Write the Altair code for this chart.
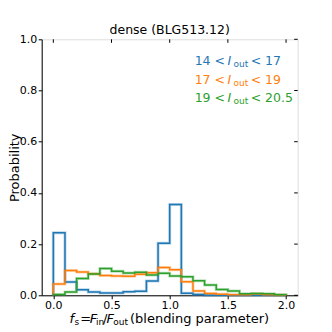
import altair as alt
import pandas as pd

# ---- data ----
bin_edges = [0.0, 0.1, 0.2, 0.3, 0.4, 0.5, 0.6, 0.7, 0.8, 0.9, 1.0,
             1.1, 1.2, 1.3, 1.4, 1.5, 1.6, 1.7, 1.8, 1.9, 2.0]
series_names = ["14-17", "17-19", "19-20.5"]
series_colors = ["#1f77b4", "#ff7f0e", "#2ca02c"]
blue_vals = [0.244, 0.052, 0.022, 0.013, 0.009, 0.009, 0.014, 0.016, 0.056, 0.203,
             0.355, 0.008, 0.003, 0.0, 0.0, 0.0, 0.0, 0.0, 0.0, 0.0]
orange_vals = [0.044, 0.097, 0.091, 0.084, 0.077, 0.075, 0.074, 0.082, 0.088, 0.109,
               0.100, 0.053, 0.017, 0.007, 0.004, 0.002, 0.002, 0.005, 0.002, 0.001]
green_vals = [0.003, 0.013, 0.066, 0.083, 0.105, 0.094, 0.087, 0.090, 0.079, 0.086,
              0.075, 0.072, 0.057, 0.040, 0.023, 0.017, 0.006, 0.007, 0.006, 0.002]
x_ticks = [0.0, 0.5, 1.0, 1.5, 2.0]
y_ticks = [0.0, 0.2, 0.4, 0.6, 0.8, 1.0]
legend_lo = ["14", "17", "19"]
legend_hi = ["17", "19", "20.5"]
title_text = "dense (BLG513.12)"

FONT = "DejaVu Sans"
W, H = 256, 256

# ---- build step outlines (matplotlib histtype='step') ----
rows = []
for name, vals in zip(series_names, [blue_vals, orange_vals, green_vals]):
    pts = [(bin_edges[0], 0.0)]
    for i, v in enumerate(vals):
        pts.append((bin_edges[i], v))
    pts.append((bin_edges[-1], 0.0))
    for k, (x, y) in enumerate(pts):
        rows.append({"series": name, "x": x, "y": y, "order": k})
df = pd.DataFrame(rows)

xscale = alt.Scale(domain=[-0.1, 2.1], nice=False, zero=False)
yscale = alt.Scale(domain=[0, 1], nice=False)
cscale = alt.Scale(domain=series_names, range=series_colors)

xaxis = alt.Axis(values=x_ticks, format=".1f", title=None, grid=False,
                 tickSize=3.5, tickColor="black", domainColor="black",
                 labelColor="black", labelFont=FONT, labelFontSize=11,
                 labelPadding=0.5)
yaxis = alt.Axis(values=y_ticks, format=".1f", title="Probability", grid=False,
                 tickSize=3.5, tickColor="black", domainColor="black",
                 labelColor="black", labelFont=FONT, labelFontSize=11,
                 labelPadding=1.5, titleFont=FONT, titleFontSize=13,
                 titleFontWeight="normal", titleColor="black",
                 titleAngle=270, titleX=-23.5, titleY=128,
                 titleBaseline="alphabetic", titleAlign="center")

base = alt.Chart(df)
halo = base.mark_line(interpolate="step-after", strokeWidth=3, opacity=0.3).encode(
    x=alt.X("x:Q", scale=xscale, axis=xaxis),
    y=alt.Y("y:Q", scale=yscale, axis=yaxis),
    color=alt.Color("series:N", scale=cscale, legend=None),
    order="order:Q",
)
lines = base.mark_line(interpolate="step-after", strokeWidth=1.5).encode(
    x=alt.X("x:Q", scale=xscale, axis=xaxis),
    y=alt.Y("y:Q", scale=yscale, axis=yaxis),
    color=alt.Color("series:N", scale=cscale, legend=None),
    order="order:Q",
)

# inward ticks on top and right edges
top_ticks = alt.Chart(pd.DataFrame({"t": x_ticks})).mark_rule(color="black", strokeWidth=1).encode(
    x=alt.X("t:Q", scale=xscale), y=alt.value(0), y2=alt.value(3.5))
right_ticks = alt.Chart(pd.DataFrame({"t": y_ticks})).mark_rule(color="black", strokeWidth=1).encode(
    y=alt.Y("t:Q", scale=yscale), x=alt.value(W), x2=alt.value(W - 3.5))

one = pd.DataFrame({"a": [0]})


def txt(s, x, y, color="black", size=12.5, style="normal", align="left"):
    return alt.Chart(one).mark_text(
        text=s, align=align, baseline="alphabetic", fontSize=size, font=FONT,
        fontStyle=style, color=color
    ).encode(x=alt.value(x), y=alt.value(y))


ann = []
# chart title
ann.append(txt(title_text, W / 2, -5.3, size=12.5, align="center"))
# legend-like annotation lines
for i, (lo, hi, col) in enumerate(zip(legend_lo, legend_hi, series_colors)):
    yb = 26.0 + i * 18.3
    ann.append(txt(lo + " <", 183.3, yb, col, align="right"))
    ann.append(txt("I", 185.8, yb, col, style="italic"))
    ann.append(txt("out", 191.8, yb + 2, col, size=9))
    ann.append(txt("< " + hi, 209.0, yb, col))

# x-axis label: f_s = F_in / F_out (blending parameter)
xb = 283.4
ann += [
    txt("f", 27.8, xb, style="italic", size=13),
    txt("s", 32.9, xb + 2, size=9),
    txt("=", 38.6, xb, size=13),
    txt("F", 48.0, xb, style="italic", size=13),
    txt("in", 54.4, xb + 2, size=9),
    txt("/", 61.3, xb, size=13),
    txt("F", 64.8, xb, style="italic", size=13),
    txt("out", 71.6, xb + 2, size=9),
    txt("(blending parameter)", 88.3, xb, size=13),
]

chart = alt.layer(halo, lines, top_ticks, right_ticks, *ann).properties(
    width=W, height=H,
    padding={"left": 33.7, "top": 31.3, "right": 10, "bottom": 34},
    autosize="none",
).configure_view(stroke="black", strokeWidth=1).configure(background="white")

chart.save("out.html", embed_options={"renderer": "svg", "actions": False})
